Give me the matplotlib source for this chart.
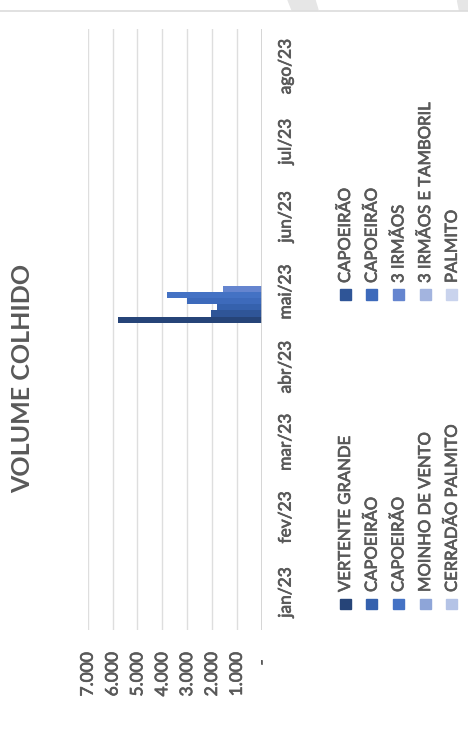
import matplotlib
matplotlib.use('Agg')
import matplotlib.pyplot as plt
import matplotlib.patheffects as pe
from matplotlib.patches import Rectangle, Polygon
from matplotlib.lines import Line2D
import numpy as np

plt.rcParams['font.family'] = ['Lato', 'DejaVu Sans']

months = ['jan/23', 'fev/23', 'mar/23', 'abr/23', 'mai/23', 'jun/23', 'jul/23', 'ago/23']
series = ['VERTENTE GRANDE', 'CAPOEIRÃO', 'CAPOEIRÃO', 'CAPOEIRÃO', 'CAPOEIRÃO',
          '3 IRMÃOS', 'MOINHO DE VENTO', '3 IRMÃOS E TAMBORIL', 'CERRADÃO PALMITO', 'PALMITO']
# only mai/23 has harvest, one value per series
vol_mai = [5780, 2040, 1800, 3005, 3810, 1560, 0, 0, 0, 0]
colors = ['#264478', '#2f5597', '#3561ad', '#3d6abb', '#4472c4',
          '#6585cf', '#8ea5d8', '#a3b4df', '#b4c3e6', '#c9d3ed']
xticks = [0, 1000, 2000, 3000, 4000, 5000, 6000, 7000]
xticklabels = ['-', '1.000', '2.000', '3.000', '4.000', '5.000', '6.000', '7.000']

gray = '#595959'
heavy = [pe.withStroke(linewidth=0.5, foreground=gray)]
W, H = 468, 737

fig = plt.figure(figsize=(W / 100, H / 100), dpi=100)

def fx(px):
    return px / W

def fy(py):
    return 1 - py / H

ax = fig.add_axes([fx(87.7), fy(630), fx(261.7) - fx(87.7), fy(29) - fy(630)])

n = len(series)
bw = 0.082
pos = np.arange(len(months))
imai = months.index('mai/23')
for i, (name, v) in enumerate(zip(series, vol_mai)):
    vals = np.zeros(len(months))
    vals[imai] = v
    off = -n * bw / 2 + (i + 0.5) * bw
    ax.barh(pos + off, vals, height=bw, color=colors[i], label=name, zorder=3)

ax.set_xlim(7000, 0)
ax.set_ylim(-0.5, len(months) - 0.5)
ax.set_xticks(xticks)
# the zero label "-" is placed on its own below, Excel puts it further from the axis
ax.set_xticklabels([''] + xticklabels[1:], rotation=90, va='top', ha='center',
                   color=gray, fontsize=12.5, path_effects=heavy)
ax.annotate(xticklabels[0], xy=(xticks[0], 0), xycoords=('data', 'axes fraction'),
            xytext=(0, -32), textcoords='offset pixels', rotation=90,
            ha='center', va='center', color=gray, fontsize=12.5, path_effects=heavy)
ax.set_yticks(pos)
ax.yaxis.tick_right()
ax.set_yticklabels(months, rotation=90, va='center', ha='left', color=gray,
                   fontsize=12.5, path_effects=heavy)
ax.tick_params(axis='both', length=0)
ax.tick_params(axis='x', pad=16)
ax.tick_params(axis='y', pad=11.5)
for s in ax.spines.values():
    s.set_visible(False)
ax.grid(axis='x', color='#dedede', linewidth=1.0, zorder=0)
ax.axvline(0, color='#d0d0d0', linewidth=1.2, zorder=4)

fig.text(fx(23), fy(378), 'VOLUME COLHIDO', rotation=90, ha='center', va='center',
         fontsize=18, fontweight='bold', color=gray)

# legend, drawn by hand since the whole chart is turned on its side
col_x = [345, 371.7, 398.4, 425.1, 451.8]
for k, name in enumerate(series):
    row, col = divmod(k, 2)
    cx = col_x[row]
    my = 604 if col == 0 else 294.5
    ty = 592 if col == 0 else 283
    fig.patches.append(Rectangle((fx(cx - 5.5), fy(my + 5)), 11 / W, 10 / H,
                                 transform=fig.transFigure, color=colors[k]))
    fig.text(fx(cx), fy(ty), name, rotation=90, ha='center', va='bottom',
             fontsize=12, color=gray, path_effects=heavy)

# screenshot strip at the top
fig.lines.append(Line2D([0, 1], [fy(10.5), fy(10.5)], transform=fig.transFigure,
                        color='#dcdcdc', linewidth=1.2))
fig.patches.append(Polygon([(fx(288), 1), (fx(315), 1), (fx(318), fy(10)), (fx(292), fy(10))],
                           closed=True, transform=fig.transFigure, color='#e6e6e6'))
fig.patches.append(Polygon([(fx(457), 1), (fx(468), 1), (fx(468), fy(10)), (fx(459), fy(10))],
                           closed=True, transform=fig.transFigure, color='#e6e6e6'))

fig.savefig('out.png', dpi=100)
